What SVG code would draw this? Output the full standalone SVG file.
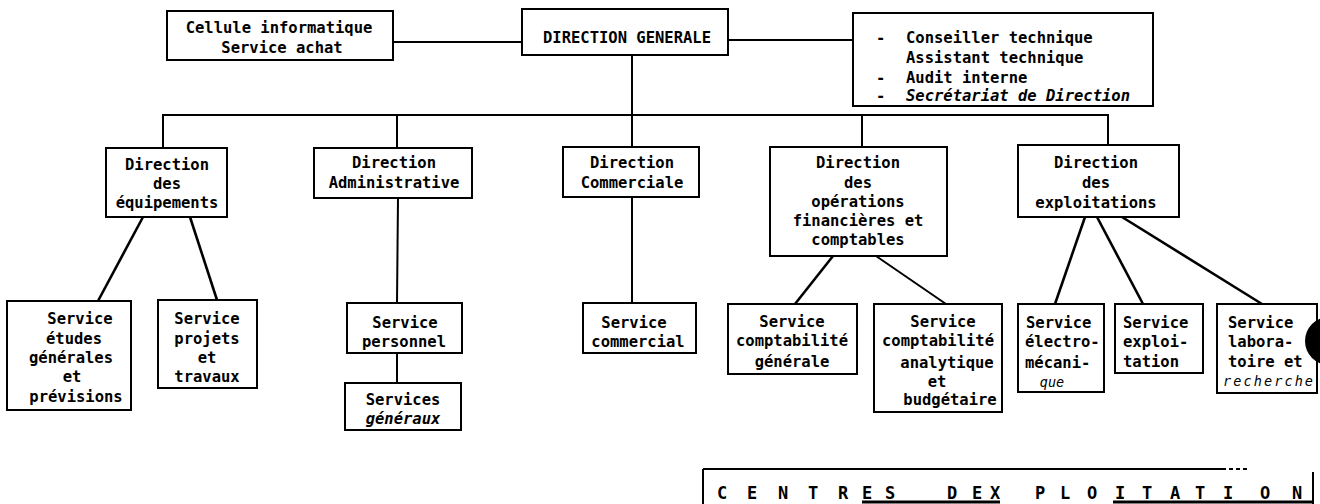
<svg xmlns="http://www.w3.org/2000/svg" width="1320" height="504" viewBox="0 0 1320 504">
<style>
  .box{fill:#fff;stroke:#000;stroke-width:2}
  .ln{stroke:#000;stroke-width:2;fill:none}
  .dg{stroke:#000;stroke-width:2.6;fill:none}
  text{font-family:"DejaVu Sans Mono","Liberation Mono",monospace;font-size:15.5px;font-weight:bold;fill:#000}
  .c{text-anchor:middle}
  .it{font-style:italic}
  .sm{font-size:13.5px;font-weight:normal;font-style:italic}
  .big{font-size:17px}
</style>
<rect width="1320" height="504" fill="#fff"/>
<g id="connectors">
  <line class="ln" x1="393" y1="42" x2="522" y2="42"/>
  <line class="ln" x1="728" y1="40" x2="853" y2="40"/>
  <line class="ln" x1="632" y1="55" x2="632" y2="147"/>
  <polyline class="ln" points="163,148 163,115 1108,115 1108,145"/>
  <line class="ln" x1="397" y1="115" x2="397" y2="148"/>
  <line class="ln" x1="862" y1="115" x2="862" y2="147"/>
  <line class="dg" x1="143" y1="217" x2="98" y2="301"/>
  <line class="dg" x1="190" y1="217" x2="217" y2="300"/>
  <line class="ln" x1="398" y1="198" x2="397" y2="303"/>
  <line class="ln" x1="397" y1="353" x2="397" y2="383"/>
  <line class="ln" x1="632" y1="197" x2="632" y2="303"/>
  <line class="dg" x1="833" y1="256" x2="795" y2="304"/>
  <line class="ln" x1="876" y1="256" x2="946" y2="304"/>
  <line class="dg" x1="1085" y1="217" x2="1055" y2="304"/>
  <line class="dg" x1="1097" y1="217" x2="1143" y2="304"/>
  <line class="dg" x1="1122" y1="217" x2="1262" y2="304"/>
</g>
<g id="cellule">
  <rect class="box" x="167" y="11" width="226" height="49"/>
  <text class="c" x="279" y="33">Cellule informatique</text>
  <text class="c" x="282" y="53">Service achat</text>
</g>
<g id="dg">
  <rect class="box" x="522" y="9" width="206" height="46"/>
  <text class="c" x="627" y="43">DIRECTION GENERALE</text>
</g>
<g id="conseil">
  <rect class="box" x="853" y="13" width="300" height="93"/>
  <text x="876" y="43">-<tspan x="906">Conseiller technique</tspan></text>
  <text x="906" y="63">Assistant technique</text>
  <text x="876" y="83">-<tspan x="906">Audit interne</tspan></text>
  <text x="876" y="101">-<tspan x="906" class="it">Secrétariat de Direction</tspan></text>
</g>
<g id="dir-equip">
  <rect class="box" x="106" y="148" width="121" height="69"/>
  <text class="c" x="167" y="170">Direction</text>
  <text class="c" x="167" y="189">des</text>
  <text class="c" x="167" y="208">équipements</text>
</g>
<g id="dir-admin">
  <rect class="box" x="314" y="148" width="158" height="50"/>
  <text class="c" x="394" y="168">Direction</text>
  <text class="c" x="394" y="188">Administrative</text>
</g>
<g id="dir-comm">
  <rect class="box" x="563" y="147" width="136" height="50"/>
  <text class="c" x="632" y="168">Direction</text>
  <text class="c" x="632" y="188">Commerciale</text>
</g>
<g id="dir-fin">
  <rect class="box" x="770" y="147" width="177" height="109"/>
  <text class="c" x="858" y="168">Direction</text>
  <text class="c" x="858" y="188">des</text>
  <text class="c" x="858" y="207">opérations</text>
  <text class="c" x="858" y="226">financières et</text>
  <text class="c" x="858" y="245">comptables</text>
</g>
<g id="dir-expl">
  <rect class="box" x="1018" y="145" width="161" height="72"/>
  <text class="c" x="1096" y="168">Direction</text>
  <text class="c" x="1096" y="188">des</text>
  <text class="c" x="1096" y="208">exploitations</text>
</g>
<g id="svc-etudes">
  <rect class="box" x="7" y="301" width="124" height="109"/>
  <text class="c" x="80" y="324">Service</text>
  <text class="c" x="74" y="344">études</text>
  <text class="c" x="71" y="363">générales</text>
  <text class="c" x="72" y="382">et</text>
  <text class="c" x="76" y="402">prévisions</text>
</g>
<g id="svc-projets">
  <rect class="box" x="158" y="300" width="99" height="88"/>
  <text class="c" x="207" y="324">Service</text>
  <text class="c" x="207" y="344">projets</text>
  <text class="c" x="207" y="363">et</text>
  <text class="c" x="207" y="382">travaux</text>
</g>
<g id="svc-personnel">
  <rect class="box" x="347" y="303" width="115" height="50"/>
  <text class="c" x="405" y="328">Service</text>
  <text class="c" x="404" y="347">personnel</text>
</g>
<g id="svc-generaux">
  <rect class="box" x="345" y="383" width="116" height="47"/>
  <text class="c" x="403" y="405">Services</text>
  <text class="c it" x="403" y="424">généraux</text>
</g>
<g id="svc-commercial">
  <rect class="box" x="583" y="303" width="113" height="50"/>
  <text class="c" x="634" y="328">Service</text>
  <text class="c" x="638" y="347">commercial</text>
</g>
<g id="svc-compta-gen">
  <rect class="box" x="728" y="304" width="129" height="70"/>
  <text class="c" x="792" y="327">Service</text>
  <text class="c" x="792" y="346">comptabilité</text>
  <text class="c" x="792" y="367">générale</text>
</g>
<g id="svc-compta-ana">
  <rect class="box" x="874" y="304" width="128" height="108"/>
  <text class="c" x="943" y="327">Service</text>
  <text class="c" x="938" y="346">comptabilité</text>
  <text class="c" x="947" y="368">analytique</text>
  <text class="c" x="937" y="387">et</text>
  <text class="c" x="950" y="405">budgétaire</text>
</g>
<g id="svc-electro">
  <rect class="box" x="1018" y="304" width="86" height="88"/>
  <text x="1026" y="328">Service</text>
  <text x="1025" y="347">électro-</text>
  <text x="1025" y="368">mécani-</text>
  <text class="c sm" x="1052" y="387">que</text>
</g>
<g id="svc-exploitation">
  <rect class="box" x="1115" y="304" width="88" height="69"/>
  <text x="1123" y="328">Service</text>
  <text x="1123" y="347">exploi-</text>
  <text x="1123" y="367">tation</text>
</g>
<g id="svc-labo">
  <rect class="box" x="1217" y="304" width="100" height="89"/>
  <text x="1228" y="328">Service</text>
  <text x="1228" y="347">labora-</text>
  <text x="1228" y="367">toire et</text>
  <text class="sm" x="1223" y="386" textLength="90">recherche</text>
</g>
<circle cx="1329" cy="341" r="24" fill="#000"/>
<g id="centres">
  <line class="ln" x1="703" y1="469" x2="1222" y2="469"/>
  <line class="ln" x1="1222" y1="469" x2="1250" y2="469" stroke-dasharray="4 3" stroke-width="1.5"/>
  <line class="ln" x1="703" y1="469" x2="703" y2="504"/>
  <line class="ln" x1="1313" y1="472" x2="1313" y2="504"/>
  <line stroke="#000" stroke-width="3" x1="862" y1="502" x2="1000" y2="502"/>
  <line stroke="#000" stroke-width="3" x1="1113" y1="502" x2="1313" y2="502"/>
  <text class="c big" y="499" x="722 752 783 813 843 867 890 920 952 977 995 1040 1065 1092 1120 1147 1175 1200 1228 1265 1297">CENTRES DEXPLOITATION</text>
</g>
</svg>
